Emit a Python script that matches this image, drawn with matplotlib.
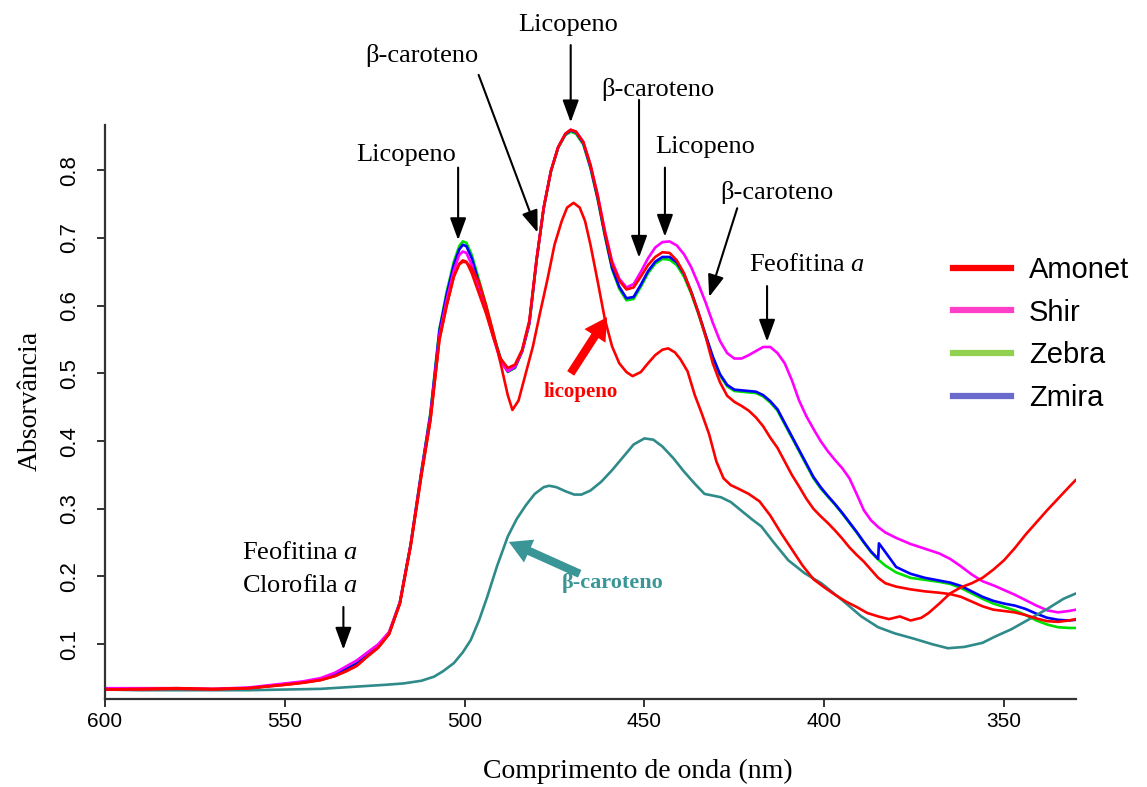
import matplotlib
matplotlib.use("Agg")
import matplotlib.pyplot as plt
from matplotlib.lines import Line2D

plt.rcParams["font.family"] = ["Liberation Serif", "DejaVu Serif"]
plt.rcParams["mathtext.fontset"] = "custom"
plt.rcParams["mathtext.rm"] = "Liberation Serif"
plt.rcParams["mathtext.it"] = "Liberation Serif:italic"

# ============================================================
# DATA
# ============================================================
wl = [600, 590, 580, 570, 560, 550, 545, 540, 536, 533,
      530, 527, 524, 521, 518, 515, 512, 509.5, 507, 505,
      503, 501.5, 500.5, 499.5, 498, 496, 494, 492, 490, 488,
      486, 484, 482, 480, 478, 476, 474, 472, 470.5, 469,
      467, 465, 463, 461, 459, 457, 455, 453, 451, 449,
      447, 445, 443, 441, 439, 437, 435, 433, 431, 429,
      427, 425, 423, 421, 419, 417, 415, 413, 411, 409,
      407, 405, 403, 401, 399, 397, 395, 393, 391, 389,
      387, 385, 383, 380, 376, 372, 368, 365, 362, 359,
      356, 353, 350, 347, 344, 341, 338, 335, 332, 330]

amonet_abs = [0.033, 0.033, 0.034, 0.033, 0.035, 0.040, 0.043, 0.047, 0.053, 0.060,
              0.068, 0.082, 0.095, 0.115, 0.160, 0.245, 0.350, 0.431, 0.550, 0.600,
              0.643, 0.662, 0.667, 0.665, 0.648, 0.618, 0.588, 0.553, 0.522, 0.508,
              0.513, 0.535, 0.578, 0.668, 0.745, 0.799, 0.834, 0.854, 0.860, 0.857,
              0.842, 0.808, 0.762, 0.708, 0.662, 0.637, 0.624, 0.627, 0.643, 0.660,
              0.672, 0.679, 0.678, 0.667, 0.648, 0.620, 0.590, 0.555, 0.515, 0.487,
              0.467, 0.458, 0.452, 0.445, 0.435, 0.422, 0.405, 0.390, 0.370, 0.350,
              0.333, 0.315, 0.300, 0.289, 0.279, 0.268, 0.256, 0.243, 0.232, 0.222,
              0.210, 0.198, 0.190, 0.185, 0.181, 0.178, 0.176, 0.174, 0.170, 0.163,
              0.156, 0.151, 0.149, 0.147, 0.143, 0.138, 0.134, 0.133, 0.135, 0.137]

shir_abs = [0.035, 0.035, 0.035, 0.034, 0.036, 0.042, 0.045, 0.050, 0.058, 0.067,
            0.076, 0.088, 0.100, 0.118, 0.162, 0.247, 0.353, 0.436, 0.556, 0.608,
            0.652, 0.675, 0.680, 0.678, 0.660, 0.625, 0.592, 0.553, 0.518, 0.503,
            0.510, 0.533, 0.575, 0.668, 0.745, 0.799, 0.834, 0.854, 0.860, 0.857,
            0.842, 0.808, 0.764, 0.711, 0.666, 0.640, 0.627, 0.632, 0.650, 0.670,
            0.686, 0.694, 0.695, 0.689, 0.676, 0.657, 0.632, 0.605, 0.575, 0.548,
            0.530, 0.522, 0.522, 0.527, 0.533, 0.539, 0.539, 0.530, 0.515, 0.490,
            0.460, 0.437, 0.418, 0.400, 0.385, 0.372, 0.360, 0.345, 0.322, 0.298,
            0.283, 0.273, 0.265, 0.257, 0.248, 0.241, 0.234, 0.226, 0.215, 0.203,
            0.193, 0.187, 0.180, 0.173, 0.165, 0.157, 0.150, 0.147, 0.149, 0.151]

zebra_abs = [0.033, 0.033, 0.033, 0.033, 0.035, 0.041, 0.044, 0.048, 0.055, 0.064,
             0.072, 0.085, 0.097, 0.117, 0.162, 0.248, 0.356, 0.442, 0.566, 0.620,
             0.665, 0.688, 0.695, 0.693, 0.675, 0.638, 0.600, 0.558, 0.522, 0.502,
             0.508, 0.532, 0.573, 0.666, 0.744, 0.798, 0.833, 0.852, 0.857, 0.854,
             0.838, 0.803, 0.757, 0.703, 0.654, 0.625, 0.608, 0.610, 0.628, 0.648,
             0.662, 0.669, 0.668, 0.660, 0.643, 0.618, 0.588, 0.555, 0.523, 0.497,
             0.481, 0.474, 0.473, 0.472, 0.471, 0.466, 0.457, 0.445, 0.425, 0.405,
             0.385, 0.365, 0.345, 0.330, 0.318, 0.306, 0.293, 0.279, 0.265, 0.250,
             0.236, 0.225, 0.216, 0.206, 0.198, 0.195, 0.192, 0.189, 0.183, 0.175,
             0.167, 0.160, 0.155, 0.150, 0.143, 0.135, 0.129, 0.125, 0.124, 0.124]

# Zmira has a small step near 385 nm
zmira_nm = wl[:82] + [384.8] + wl[82:]
zmira_abs = [0.033, 0.033, 0.033, 0.033, 0.035, 0.041, 0.044, 0.048, 0.055, 0.063,
             0.071, 0.084, 0.096, 0.116, 0.161, 0.247, 0.355, 0.440, 0.563, 0.616,
             0.660, 0.683, 0.690, 0.688, 0.670, 0.633, 0.597, 0.556, 0.521, 0.503,
             0.509, 0.533, 0.574, 0.667, 0.745, 0.799, 0.834, 0.853, 0.859, 0.856,
             0.840, 0.805, 0.759, 0.705, 0.656, 0.628, 0.611, 0.613, 0.631, 0.651,
             0.665, 0.672, 0.672, 0.664, 0.647, 0.621, 0.590, 0.557, 0.525, 0.499,
             0.483, 0.476, 0.475, 0.474, 0.473, 0.468, 0.459, 0.447, 0.427, 0.407,
             0.387, 0.367, 0.347, 0.332, 0.319, 0.307, 0.294, 0.280, 0.266, 0.251,
             0.237, 0.226, 0.249, 0.236, 0.214, 0.204, 0.198, 0.194, 0.191, 0.186,
             0.178, 0.170, 0.164, 0.160, 0.157, 0.152, 0.145, 0.139, 0.136, 0.135,
             0.136]

# licopeno standard
lic_nm = [600, 590, 580, 570, 560, 550, 545, 540, 536, 533,
          530, 527, 524, 521, 518, 515, 512, 509.5, 507, 505,
          503, 501.5, 500.5, 499.5, 498, 496, 494, 492, 490, 488,
          486.7, 485, 483, 481, 479, 477, 475, 473, 471.5, 469.7,
          468, 466.5, 465, 463, 461, 459, 457, 455, 453.3, 451,
          449, 447, 445, 443.4, 441.5, 440, 438, 436, 434, 432,
          430, 428, 426, 424, 421, 418, 415, 412, 409, 406,
          403, 400, 397, 394, 391, 388, 385, 382, 379, 376,
          373, 371, 368, 365, 362, 359, 356, 353, 350, 347,
          344, 341, 338, 335, 332, 330]
lic_abs = [0.033, 0.034, 0.035, 0.034, 0.035, 0.040, 0.043, 0.047, 0.053, 0.060,
           0.068, 0.082, 0.095, 0.115, 0.160, 0.245, 0.350, 0.431, 0.550, 0.600,
           0.643, 0.661, 0.665, 0.664, 0.655, 0.635, 0.600, 0.560, 0.515, 0.468,
           0.446, 0.460, 0.500, 0.540, 0.590, 0.638, 0.690, 0.725, 0.745, 0.752,
           0.745, 0.725, 0.690, 0.636, 0.580, 0.540, 0.515, 0.502, 0.496, 0.502,
           0.515, 0.527, 0.535, 0.537, 0.531, 0.521, 0.503, 0.468, 0.440, 0.410,
           0.370, 0.345, 0.335, 0.330, 0.322, 0.311, 0.290, 0.264, 0.240, 0.216,
           0.196, 0.184, 0.173, 0.163, 0.155, 0.146, 0.141, 0.137, 0.141, 0.135,
           0.139, 0.146, 0.160, 0.175, 0.184, 0.190, 0.198, 0.210, 0.224, 0.242,
           0.262, 0.280, 0.298, 0.315, 0.332, 0.343]

# beta-caroteno standard
beta_nm = [600, 590, 580, 570, 560, 550, 540, 531, 522, 517,
           512, 508.5, 506, 503, 500.5, 498.3, 496, 493.7, 491, 488,
           485.5, 483, 480.5, 478, 476.5, 474.5, 472, 469.5, 467.5, 465,
           462, 459, 456, 453, 450, 447.5, 445, 442, 439, 436,
           433.3, 430.5, 428.7, 426, 423, 420, 417.5, 414, 410, 405.5,
           400.8, 395, 389.7, 385, 380.4, 375, 370, 365.6, 361, 356,
           352.6, 348, 343.3, 338, 333.5, 330]
beta_abs = [0.033, 0.032, 0.032, 0.032, 0.032, 0.033, 0.034, 0.037, 0.040, 0.042,
            0.046, 0.052, 0.060, 0.072, 0.088, 0.106, 0.135, 0.170, 0.215, 0.259,
            0.285, 0.305, 0.322, 0.332, 0.334, 0.332, 0.326, 0.321, 0.321, 0.327,
            0.340, 0.357, 0.376, 0.395, 0.404, 0.402, 0.392, 0.375, 0.355, 0.337,
            0.322, 0.319, 0.317, 0.310, 0.297, 0.284, 0.274, 0.250, 0.224, 0.205,
            0.190, 0.165, 0.141, 0.125, 0.116, 0.108, 0.100, 0.094, 0.096, 0.102,
            0.111, 0.122, 0.136, 0.152, 0.167, 0.175]

x_ticks = [600, 550, 500, 450, 400, 350]
y_ticks = [0.1, 0.2, 0.3, 0.4, 0.5, 0.6, 0.7, 0.8]

legend_names = ["Amonet", "Shir", "Zebra", "Zmira"]
legend_colors = ["#ff0000", "#ff3fc8", "#92d050", "#6a6acd"]

TEAL = "#2f8a8a"
TEAL_TEXT = "#3a9696"


# ============================================================
# PLOT
# ============================================================
fig = plt.figure(figsize=(11.47, 7.87), dpi=100)
ax = fig.add_axes([0.0915, 0.1118, 0.8466, 0.7294])

line_kw = dict(lw=1.9, solid_joinstyle="round", solid_capstyle="round")
ax.plot(wl, zebra_abs, color="#00e000", **line_kw)
ax.plot(zmira_nm, zmira_abs, color="#0000ff", **line_kw)
ax.plot(wl, shir_abs, color="#ff00ff", **line_kw)
ax.plot(beta_nm, beta_abs, color=TEAL, **line_kw)
ax.plot(lic_nm, lic_abs, color="#ff0000", **line_kw)
ax.plot(wl, amonet_abs, color="#ff0000", **line_kw)

ax.set_xlim(600, 330)
ax.set_ylim(0.019, 0.867)
for side in ["top", "right"]:
    ax.spines[side].set_visible(False)
for side in ["left", "bottom"]:
    ax.spines[side].set_linewidth(1.6)
    ax.spines[side].set_color("#333333")

ax.set_xticks(x_ticks)
ax.set_xticklabels([str(t) for t in x_ticks], family="Liberation Sans", fontsize=15)
ax.set_yticks(y_ticks)
ax.set_yticklabels([f"{t:.1f}" for t in y_ticks], family="Liberation Sans",
                   fontsize=16, rotation=90, va="center")
ax.tick_params(axis="both", length=6, width=1.4, color="#333333")
ax.tick_params(axis="x", pad=3)
ax.tick_params(axis="y", pad=12)

ax.set_xlabel("Comprimento de onda (nm)", fontsize=20, va="center")
ax.xaxis.set_label_coords(0.549, -0.127)
ax.set_ylabel("Absorvância", fontsize=20, va="center")
ax.yaxis.set_label_coords(-0.077, 0.52)

# legend (drawn with the legend colours of the original, not the line colours)
handles = [Line2D([0], [0], color=c, lw=4.5) for c in legend_colors]
fig.legend(handles, legend_names, loc="upper left",
           bbox_to_anchor=(953 / 1147, 1 - 256 / 787), frameon=False,
           prop={"family": "Liberation Sans", "size": 21},
           handlelength=2.0, handletextpad=0.6, labelspacing=0.5,
           borderpad=0, borderaxespad=0)


# ============================================================
# ANNOTATIONS
# ============================================================
def black_arrow(tail, head):
    ax.annotate("", xy=head, xytext=tail, annotation_clip=False,
                arrowprops=dict(arrowstyle="-|>,head_length=0.9,head_width=0.33",
                                mutation_scale=15, lw=1.5, color="black",
                                shrinkA=0, shrinkB=0))


def label(xy, text, **kw):
    ax.text(xy[0], xy[1], text, ha="center", va="center", fontsize=19,
            clip_on=False, **kw)


def bold_arrow(tail, head, color):
    ax.annotate("", xy=head, xytext=tail, annotation_clip=False,
                arrowprops=dict(arrowstyle="simple,head_length=0.8,head_width=0.9,tail_width=0.3",
                                mutation_scale=20, color=color, lw=0,
                                shrinkA=0, shrinkB=0))


label((516.3, 0.823), "Licopeno")
black_arrow((501.8, 0.804), (501.8, 0.697))

label((511.8, 0.970), "β-caroteno")
black_arrow((496.1, 0.941), (479.7, 0.708))

label((471.3, 1.015), "Licopeno")
black_arrow((470.5, 0.985), (470.5, 0.871))

label((446.2, 0.919), "β-caroteno")
black_arrow((451.5, 0.904), (451.5, 0.671))

label((433.1, 0.835), "Licopeno")
black_arrow((444.3, 0.804), (444.3, 0.702))

label((413.1, 0.767), "β-caroteno")
black_arrow((424.2, 0.744), (432.0, 0.613))

label((404.7, 0.660), r"Feofitina $\mathit{a}$")
black_arrow((415.9, 0.629), (415.9, 0.547))

label((545.7, 0.235), r"Feofitina $\mathit{a}$")
label((545.7, 0.186), r"Clorofila $\mathit{a}$")
black_arrow((533.7, 0.155), (533.7, 0.092))

# coloured markers for the two standards
bold_arrow((470.5, 0.500), (460.4, 0.583), "#ff0000")
ax.text(467.7, 0.473, "licopeno", color="#ff0000", fontsize=15,
        fontweight="bold", ha="center", va="center")

bold_arrow((468.0, 0.204), (487.7, 0.251), TEAL_TEXT)
ax.text(458.8, 0.191, "β-caroteno", color=TEAL_TEXT, fontsize=16,
        fontweight="bold", ha="center", va="center")

fig.savefig("out.png", dpi=100)
